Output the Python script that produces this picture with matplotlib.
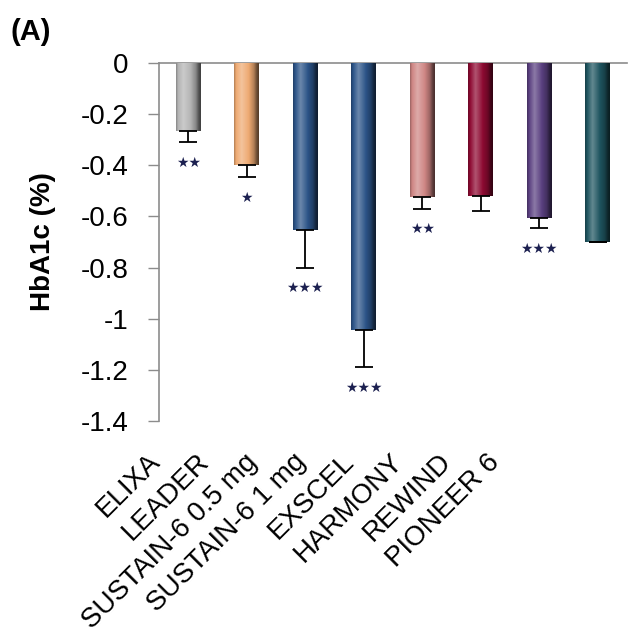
import matplotlib
matplotlib.use("Agg")
import matplotlib.pyplot as plt
import matplotlib.transforms as mtransforms
import numpy as np
from matplotlib.colors import to_rgb

plt.rcParams['font.family'] = ['Liberation Sans', 'DejaVu Sans']

categories = ["ELIXA", "LEADER", "SUSTAIN-6 0.5 mg", "SUSTAIN-6 1 mg",
              "EXSCEL", "HARMONY", "REWIND", "PIONEER 6"]
values = [-0.265, -0.40, -0.655, -1.045, -0.525, -0.52, -0.605, -0.70]
errors = [0.045, 0.047, 0.145, 0.145, 0.045, 0.058, 0.042, 0.0]
stars = ["**", "*", "***", "***", "**", "", "***", ""]
colors = ["#b4b4b4", "#eeaa72", "#2c5488", "#2c5488", "#cf8684",
          "#8e0a32", "#5a4080", "#1f5560"]
yticks = [0, -0.2, -0.4, -0.6, -0.8, -1.0, -1.2, -1.4]
ytick_labels = ["0", "-0.2", "-0.4", "-0.6", "-0.8", "-1", "-1.2", "-1.4"]

fig = plt.figure(figsize=(6.28, 6.35), dpi=100)
ax = fig.add_axes([0.2532, 0.337, 0.745, 0.5638])

x = np.arange(len(categories))
bw = 0.42
bars = ax.bar(x, values, width=bw, color=colors, edgecolor='none', zorder=2)


def shade(c, f):
    c = np.array(to_rgb(c))
    if f >= 1:
        return c + (1 - c) * (f - 1)
    return c * f


prof_t = np.array([0.0, 0.08, 0.3, 0.55, 0.8, 0.92, 1.0])
prof_f = np.array([0.75, 1.0, 1.3, 1.05, 0.75, 0.45, 0.35])
nx = 64
ts = np.linspace(0, 1, nx)
fs = np.interp(ts, prof_t, prof_f)
for b, c in zip(bars, colors):
    img = np.array([[shade(c, f) for f in fs]])
    x0 = b.get_x()
    w = b.get_width()
    y0 = b.get_y()
    h = b.get_height()
    im = ax.imshow(img, extent=[x0, x0 + w, y0 + h, y0], aspect='auto',
                   interpolation='bilinear', zorder=3)
    im.set_clip_path(b)

ax.errorbar(x, values, yerr=[errors, [0] * len(errors)], fmt='none',
            ecolor='black', elinewidth=1.3, capsize=6.5, capthick=1.3, zorder=4)

for xi, v, e, s in zip(x, values, errors, stars):
    if s:
        ax.text(xi, v - e - 0.08, "★" * len(s), ha='center', va='center',
                fontsize=10, color='#1c2050', family='DejaVu Sans', zorder=5)

ax.set_xlim(-0.5, len(categories) - 0.5)
ax.set_ylim(-1.4, 0)
ax.set_yticks(yticks)
ax.set_yticklabels(ytick_labels, fontsize=20)
ax.tick_params(axis='y', direction='out', length=8, width=1, color='#8c8c8c', pad=14)
ax.set_xticks(x)
ax.set_xticklabels(categories, fontsize=20, rotation=45, ha='right', va='center',
                   rotation_mode='anchor')
ax.tick_params(axis='x', length=0, pad=0)

# Position labels like the original (labels below the plot, compressed)
for i, lab in enumerate(ax.get_xticklabels()):
    dx = -(32 + 10 * i) / 100.0
    off = mtransforms.ScaledTranslation(dx, -0.37, fig.dpi_scale_trans)
    lab.set_transform(lab.get_transform() + off)

for sp in ['right', 'bottom']:
    ax.spines[sp].set_visible(False)
ax.spines['left'].set_color('#8c8c8c')
ax.spines['top'].set_color('#8c8c8c')
ax.spines['left'].set_linewidth(1.2)
ax.spines['top'].set_linewidth(1.2)

ax.set_ylabel("HbA1c (%)", fontsize=20, fontweight='bold')
ax.yaxis.set_label_coords(-0.22, 0.5)

fig.text(0.016, 0.95, "(A)", fontsize=21, fontweight='bold', ha='left', va='center')

fig.savefig("out.png", dpi=100)
